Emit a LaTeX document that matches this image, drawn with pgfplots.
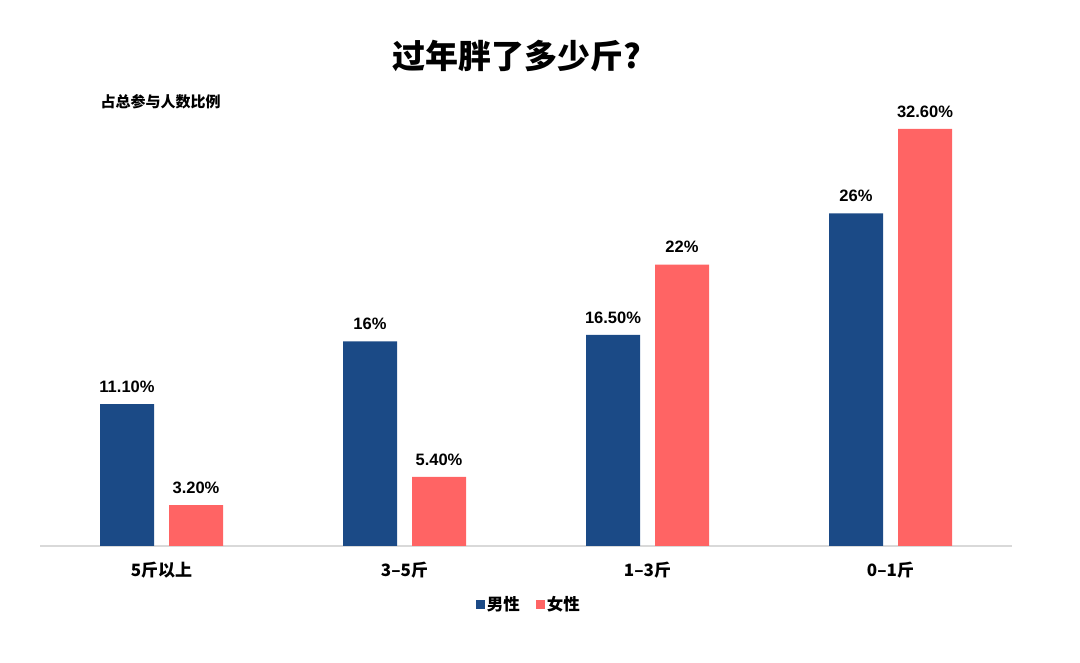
\documentclass[border=0pt]{standalone}
\usepackage{pgfplots}
\pgfplotsset{compat=1.18}
\usepackage{pgfplotstable}
\usepackage{fontspec}
\setmainfont{Noto Sans CJK SC}
\newfontfamily\lat{Liberation Sans}
\definecolor{cblue}{RGB}{27,74,134}
\definecolor{cred}{RGB}{255,100,100}
\definecolor{axgray}{RGB}{217,217,217}

\pgfplotstableread{
x y lbl
0 11.1 11.10
1 16.0 16
2 16.5 16.50
3 26.0 26
}\male
\pgfplotstableread{
x y lbl
0 3.2 3.20
1 5.4 5.40
2 22.0 22
3 32.6 32.60
}\female

\begin{document}
\begin{tikzpicture}
\path[use as bounding box] (0,0) rectangle (1080pt,662pt);
\node[font=\bfseries\fontsize{33}{37}\selectfont] at (517pt,606pt) {过年胖了多少斤?};
\node[font=\bfseries\fontsize{15}{18}\selectfont, anchor=west] at (97pt,560pt) {占总参与人数比例};
\begin{axis}[
  at={(40pt,116pt)}, anchor=south west,
  scale only axis,
  width=972pt, height=447.7pt,
  xmin=-0.5, xmax=3.5, ymin=0, ymax=35,
  axis x line*=bottom,
  axis y line=none,
  x axis line style={axgray, line width=1.8pt},
  xtick={0,1,2,3},
  xticklabels={5斤以上,3–5斤,1–3斤,0–1斤},
  xticklabel style={font=\bfseries\fontsize{17}{20}\selectfont, yshift=-12pt},
  major tick length=0pt,
  ytick=\empty,
  ybar, bar width=54pt,
  point meta=explicit symbolic,
  nodes near coords={\pgfplotspointmeta\%},
  every node near coord/.append style={font=\lat\bfseries\fontsize{16.5}{19}\selectfont, black, yshift=8pt},
  legend columns=2,
  legend style={draw=none, at={(0.503,-0.13)}, anchor=center, font=\bfseries\fontsize{16.5}{19}\selectfont,
    /tikz/every even column/.append style={column sep=14pt}},
  legend image code/.code={\fill[#1] (-1pt,-4.5pt) rectangle (8pt,4.5pt);},
]
\addplot[fill=cblue, draw=none, bar shift=-34.5pt] table[x=x, y=y, meta=lbl] {\male};
\addplot[fill=cred, draw=none, bar shift=34.5pt] table[x=x, y=y, meta=lbl] {\female};
\legend{男性,女性}
\end{axis}
\end{tikzpicture}
\end{document}
